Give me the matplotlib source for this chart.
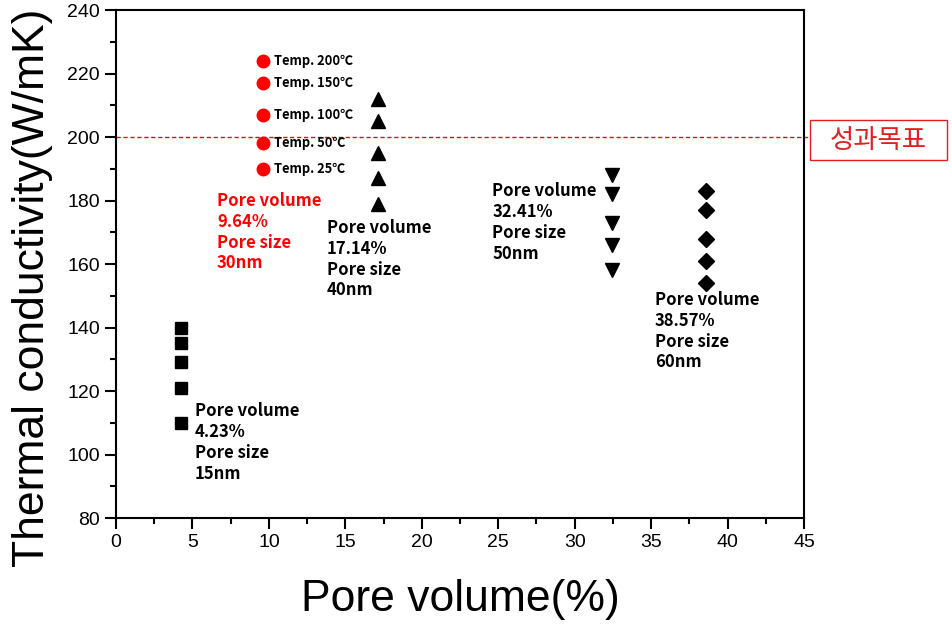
import matplotlib

matplotlib.use("Agg")
import matplotlib.pyplot as plt
from matplotlib.patches import Rectangle
from matplotlib.ticker import MultipleLocator

# pore volume (%) per sample and thermal conductivity (W/mK) at 5 temperatures
pv_15nm = 4.23
tc_15nm = [140, 135, 129, 121, 110]
pv_30nm = 9.64
tc_30nm = [224, 217, 207, 198, 190]
pv_40nm = 17.14
tc_40nm = [212, 205, 195, 187, 179]
pv_50nm = 32.41
tc_50nm = [188, 182, 173, 166, 158]
pv_60nm = 38.57
tc_60nm = [183, 177, 168, 161, 154]

temp_labels = ["Temp. 200℃", "Temp. 150℃", "Temp. 100℃", "Temp. 50℃", "Temp. 25℃"]
target = 200

KR = ["Noto Sans CJK KR", "DejaVu Sans"]
plt.rcParams["font.family"] = ["Liberation Sans", "DejaVu Sans"]

fig = plt.figure(figsize=(9.53, 6.26), dpi=100)
ax = fig.add_axes([0.1217, 0.1725, 0.7220, 0.8115])

ax.plot([pv_15nm] * 5, tc_15nm, "s", color="black", ms=9, ls="none")
ax.plot([pv_30nm] * 5, tc_30nm, "o", color="red", ms=9, ls="none")
ax.plot([pv_40nm] * 5, tc_40nm, "^", color="black", ms=10, ls="none")
ax.plot([pv_50nm] * 5, tc_50nm, "v", color="black", ms=10, ls="none")
ax.plot([pv_60nm] * 5, tc_60nm, "D", color="black", ms=8, ls="none")

for val, lab in zip(tc_30nm, temp_labels):
    ax.annotate(lab, (pv_30nm, val), xytext=(8, 0), textcoords="offset points",
                va="center", ha="left", fontsize=9.3, family=KR, fontweight="bold")

# target line, running just past the frame into the label box
ax.plot([0, 45.4], [target, target], ls=(0, (3, 2)), color="red", lw=1, clip_on=False)

blocks = [
    (5.17, 116.5, "Pore volume\n4.23%\nPore size\n15nm", "black"),
    (6.6, 182.7, "Pore volume\n9.64%\nPore size\n30nm", "red"),
    (13.8, 174.2, "Pore volume\n17.14%\nPore size\n40nm", "black"),
    (24.6, 185.8, "Pore volume\n32.41%\nPore size\n50nm", "black"),
    (35.25, 151.5, "Pore volume\n38.57%\nPore size\n60nm", "black"),
]
for x, y, txt, col in blocks:
    ax.text(x, y, txt, ha="left", va="top", fontsize=12, family=KR,
            fontweight="bold", color=col, linespacing=1.2)

ax.set_xlim(0, 45)
ax.set_ylim(80, 240)
ax.xaxis.set_major_locator(MultipleLocator(5))
ax.xaxis.set_minor_locator(MultipleLocator(2.5))
ax.yaxis.set_major_locator(MultipleLocator(20))
ax.yaxis.set_minor_locator(MultipleLocator(10))
ax.tick_params(which="major", direction="out", length=8, width=1.5, labelsize=14)
ax.tick_params(which="minor", direction="out", length=4, width=1.5)
for s in ax.spines.values():
    s.set_linewidth(1.5)

ax.set_xlabel("Pore volume(%)", fontsize=32, labelpad=20)
ax.set_ylabel("Thermal conductivity(W/mK)", fontsize=32)
ax.yaxis.set_label_coords(-0.092, 0.453)

fig.patches.append(Rectangle((0.850, 0.744), 0.144, 0.064, transform=fig.transFigure,
                             fill=False, edgecolor="#e02020", lw=1))
fig.text(0.922, 0.776, "성과목표", ha="center", va="center", fontsize=19,
         color="#e02020", family=KR)

fig.savefig("out.png", dpi=100)
